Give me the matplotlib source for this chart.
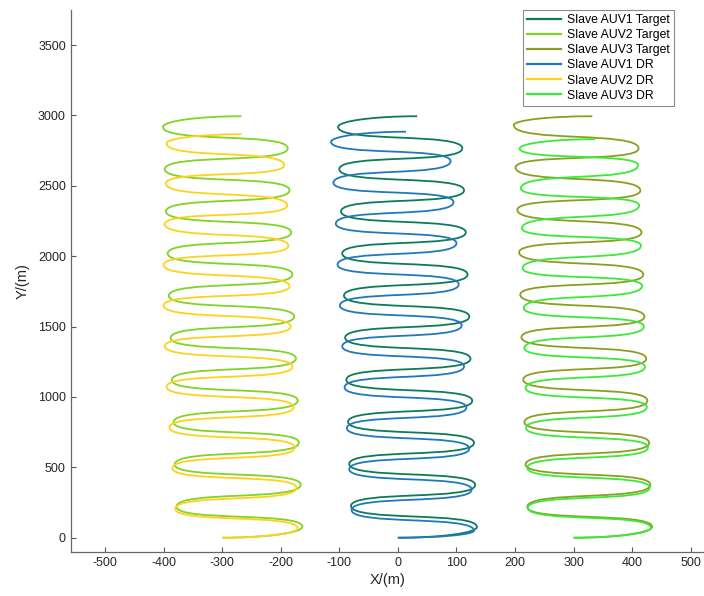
import numpy as np
import matplotlib.pyplot as plt
from matplotlib.path import Path
from matplotlib.patches import PathPatch
from matplotlib.lines import Line2D

plt.rcParams['font.family'] = ['Liberation Sans', 'DejaVu Sans']
plt.rcParams['axes.unicode_minus'] = False

# Turning points of each track (m): start, right-hand apexes, left-hand apexes, end
# Slave AUV1 target
t1_start = (0, 0)
t1_rx = [135, 132, 130, 127, 124, 122, 119, 116, 113, 110]
t1_ry = [76, 375, 674, 973, 1272, 1571, 1870, 2169, 2468, 2766]
t1_lx = [-80, -83, -85, -88, -90, -92, -95, -97, -100, -102]
t1_ly = [225, 524, 823, 1122, 1421, 1720, 2019, 2318, 2618, 2918]
t1_end = (33, 2994)

# Slave AUV2 target
t2_start = (-300, 0)
t2_rx = [-163, -166, -169, -171, -174, -177, -180, -182, -185, -188]
t2_ry = [78, 377, 676, 975, 1274, 1572, 1870, 2169, 2468, 2766]
t2_lx = [-378, -381, -383, -386, -388, -391, -393, -396, -398, -401]
t2_ly = [220, 520, 820, 1119, 1419, 1719, 2019, 2318, 2618, 2918]
t2_end = (-267, 2994)

# Slave AUV3 target
t3_start = (300, 0)
t3_rx = [434, 431, 429, 426, 424, 421, 419, 416, 414, 411]
t3_ry = [78, 377, 675, 974, 1272, 1571, 1869, 2168, 2466, 2765]
t3_lx = [221, 218, 216, 214, 211, 209, 207, 204, 201, 198]
t3_ly = [218, 520, 821, 1123, 1424, 1726, 2027, 2329, 2630, 2931]
t3_end = (332, 2994)

# Slave AUV1 dead reckoning
d1_start = (0, 0)
d1_rx = [130, 126, 122, 117, 113, 109, 104, 100, 95, 90]
d1_ry = [50, 342, 634, 925, 1217, 1509, 1800, 2092, 2384, 2675]
d1_lx = [-79, -83, -87, -91, -95, -99, -103, -106, -110, -114]
d1_ly = [197, 487, 778, 1068, 1359, 1649, 1940, 2231, 2521, 2812]
d1_end = (14, 2884)

# Slave AUV2 dead reckoning
d2_start = (-300, 0)
d2_rx = [-171, -173, -176, -178, -180, -183, -185, -187, -189, -194]
d2_ry = [67, 354, 641, 928, 1215, 1500, 1786, 2073, 2360, 2647]
d2_lx = [-380, -385, -390, -395, -398, -400, -400, -398, -396, -395]
d2_ly = [205, 494, 783, 1072, 1361, 1650, 1939, 2228, 2517, 2801]
d2_end = (-267, 2866)

# Slave AUV3 dead reckoning
d3_start = (300, 0)
d3_rx = [432, 430, 427, 425, 422, 420, 417, 415, 412, 410]
d3_ry = [70, 356, 642, 928, 1214, 1500, 1789, 2075, 2361, 2647]
d3_lx = [222, 221, 219, 218, 216, 215, 213, 212, 210, 208]
d3_ly = [212, 496, 779, 1063, 1347, 1631, 1914, 2198, 2481, 2765]
d3_end = (337, 2831)

labels = ['Slave AUV1 Target', 'Slave AUV2 Target', 'Slave AUV3 Target',
          'Slave AUV1 DR', 'Slave AUV2 DR', 'Slave AUV3 DR']
colors = ['#0d7a5c', '#80d424', '#8c9e1e', '#1f78bd', '#ffd21a', '#3ee83a']


def track(start, rx, ry, lx, ly, end):
    """Serpentine track as a chain of cubic Bezier turns through the apexes."""
    k, m = 0.55, 0.75
    apex = []
    for a, b, c, d in zip(rx, ry, lx, ly):
        apex += [(a, b), (c, d)]
    x0, y0 = start
    xa, ya = apex[0]
    verts = [(x0, y0), (x0 + k * (xa - x0), y0), (xa, ya - k * (ya - y0)), (xa, ya)]
    codes = [Path.MOVETO] + [Path.CURVE4] * 3
    for (xa, ya), (xb, yb) in zip(apex[:-1], apex[1:]):
        dy = yb - ya
        verts += [(xa, ya + m * dy), (xb, yb - m * dy), (xb, yb)]
        codes += [Path.CURVE4] * 3
    xa, ya = apex[-1]
    xe, ye = end
    verts += [(xa, ya + k * (ye - ya)), (xe - k * (xe - xa), ye), (xe, ye)]
    codes += [Path.CURVE4] * 3
    return Path(verts, codes)


tracks = [
    (t1_start, t1_rx, t1_ry, t1_lx, t1_ly, t1_end),
    (t2_start, t2_rx, t2_ry, t2_lx, t2_ly, t2_end),
    (t3_start, t3_rx, t3_ry, t3_lx, t3_ly, t3_end),
    (d1_start, d1_rx, d1_ry, d1_lx, d1_ly, d1_end),
    (d2_start, d2_rx, d2_ry, d2_lx, d2_ly, d2_end),
    (d3_start, d3_rx, d3_ry, d3_lx, d3_ly, d3_end),
]

fig = plt.figure(figsize=(7.04, 5.96), dpi=100)
ax = fig.add_axes([0.1004, 0.0738, 0.8996, 0.9094])

handles = []
for tr, c, lab in zip(tracks, colors, labels):
    ax.add_patch(PathPatch(track(*tr), fill=False, edgecolor=c, lw=1.3))
    handles.append(Line2D([], [], color=c, lw=1.6, label=lab))

ax.set_xlim(-558.6, 522.7)
ax.set_ylim(-101.6, 3748.6)
ax.set_xticks(np.arange(-500, 501, 100))
ax.set_yticks(np.arange(0, 3501, 500))
ax.tick_params(direction='in', length=3.5, width=0.8, colors='#555555',
               labelcolor='#262626', labelsize=9)
for s in ['top', 'right']:
    ax.spines[s].set_visible(False)
for s in ['left', 'bottom']:
    ax.spines[s].set_color('#666666')
    ax.spines[s].set_linewidth(0.9)

ax.set_xlabel('X/(m)', fontsize=10.5, color='#262626', labelpad=3)
ax.set_ylabel('Y/(m)', fontsize=10.5, color='#262626', labelpad=6)

leg = ax.legend(handles=handles, loc='upper right', bbox_to_anchor=(0.9526, 1.0),
                borderaxespad=0, fontsize=8.8, handlelength=2.8, handletextpad=0.45,
                labelspacing=0.25, borderpad=0.35, fancybox=False, framealpha=1)
leg.get_frame().set_edgecolor('#8c8c8c')
leg.get_frame().set_linewidth(0.8)

fig.savefig('out.png', dpi=100)
